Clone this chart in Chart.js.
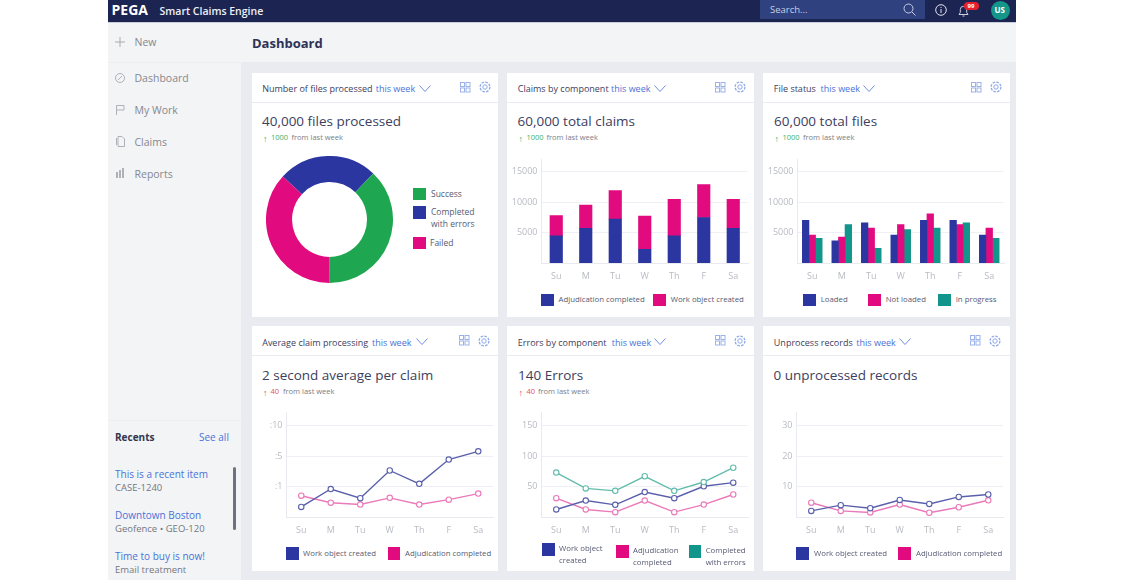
<!DOCTYPE html>
<html>
<head>
<meta charset="utf-8">
<script src="https://cdn.jsdelivr.net/npm/chart.js@4"></script>
<style>
html, body { margin: 0; padding: 0; background: #fff; }
body { width: 1125px; height: 580px; overflow: hidden; position: relative; font-family: "Open Sans", sans-serif; }
#app { position: absolute; left: 0; top: 0; width: 1125px; height: 580px; overflow: hidden; filter: blur(0.4px); }
.box { position: absolute; }
.txt { position: absolute; white-space: nowrap; line-height: 1; transform: translateY(-50%); }
canvas { position: absolute; }
svg { position: absolute; overflow: visible; fill: none; }
</style>
</head>
<body>
<div id="app"></div>
<script>
const days = ['Su', 'M', 'Tu', 'W', 'Th', 'F', 'Sa'];

// donut, listed clockwise from the top left edge of the blue slice
const fileLabels = ['Completed with errors', 'Success', 'Failed'];
const fileValues = [10100, 15200, 14700];

// stacked bars
const adjudicationClaims = [4460, 5700, 7200, 2260, 4460, 7470, 5700];
const workObjectClaims = [3340, 3800, 4700, 5430, 5970, 5380, 4730];

// grouped bars
const loaded = [7000, 3650, 6600, 4600, 7000, 7000, 4600];
const notLoaded = [4600, 4250, 5750, 6300, 8050, 6300, 5750];
const inProgress = [4030, 6300, 2420, 5480, 5750, 6600, 4030];
const barTicks = [5000, 10000, 15000];

// average processing, the axis is evenly spaced so values are tick positions
const avgTicks = [1, 2, 3];
const avgTickLabels = [':1', ':5', ':10'];
const avgWorkObject = [0.33, 0.92, 0.62, 1.53, 1.09, 1.89, 2.16];
const avgAdjudication = [0.70, 0.47, 0.41, 0.63, 0.41, 0.57, 0.77];

// errors
const errorTicks = [50, 100, 150];
const errWorkObject = [12.4, 27, 20, 41, 31, 50.5, 56.5];
const errAdjudication = [31, 12.4, 8, 27, 8, 20.4, 37];
const errCompleted = [73, 47, 43, 67, 43, 57.5, 81];

// unprocessed
const unprocTicks = [10, 20, 30];
const unprocWorkObject = [2, 3.9, 2.9, 5.6, 4.3, 6.6, 7.4];
const unprocAdjudication = [4.7, 2, 1.5, 4.1, 1.4, 3.2, 5.5];

const BLUE = '#2b36a0', PINK = '#e20a7f', TEAL = '#12958a', GREEN = '#1fa650';
const LINE_BLUE = '#5a60ab', LINE_PINK = '#ea7ab9', LINE_TEAL = '#62bcab';
const INK = '#3c4060', MUTED = '#7b7e88', LINK = '#4a72d6', TICK = '#b8bbc3', GRID = '#eef0f5';
const UP_GOOD = '#3db26a', UP_BAD = '#e8505b';

const app = document.getElementById('app');

function box(x, y, w, h, color, radius) {
    const d = document.createElement('div');
    d.className = 'box';
    d.style.cssText = `left:${x}px;top:${y}px;width:${w}px;height:${h}px;background:${color};` +
        (radius ? `border-radius:${radius}px;` : '');
    app.appendChild(d);
    return d;
}

function label(x, y, text, size, color, weight) {
    const d = document.createElement('div');
    d.className = 'txt';
    d.textContent = text;
    d.style.cssText = `left:${x}px;top:${y}px;font-size:${size}px;color:${color};font-weight:${weight || 400};`;
    app.appendChild(d);
    return d;
}

function icon(x, y, w, h, body) {
    const s = document.createElementNS('http://www.w3.org/2000/svg', 'svg');
    s.setAttribute('width', w);
    s.setAttribute('height', h);
    s.style.left = x + 'px';
    s.style.top = y + 'px';
    s.innerHTML = body;
    app.appendChild(s);
}

function cardHead(x, y, title, weekX, chevX, iconX) {
    // x,y is the top left of the card
    box(x, y, 246.5, 244.5, '#fff');
    box(x, y + 29, 246.5, 1, '#e9ebf0');
    const rowY = y + 15.3;
    label(x + 10.5, rowY, title, 9, INK);
    label(weekX, rowY, 'this week', 9, LINK);
    icon(chevX, rowY - 3.5, 12, 8, '<path d="M0.5 0.5 L6 6.5 L11.5 0.5" stroke="#4a72d6" stroke-width="0.8"/>');
    const g = y + 9;
    icon(iconX, g, 11, 11, '<g stroke="#9bb3ea" stroke-width="1">' +
        '<rect x="0.5" y="0.5" width="4" height="4"/><rect x="6" y="0.5" width="4" height="4"/>' +
        '<rect x="0.5" y="6" width="4" height="4"/><rect x="6" y="6" width="4" height="4"/></g>');
    icon(iconX + 19, g - 0.5, 12, 12, '<g stroke="#8fa9e8" stroke-width="1"><circle cx="6" cy="6" r="2.2"/>' +
        '<circle cx="6" cy="6" r="4.9" stroke-dasharray="2.6 1.2" stroke-width="1.3"/></g>');
}

function trend(arrowX, numX, textX, y, value, color) {
    label(arrowX, y, '↑', 9, color);
    label(numX, y, value, 7.5, color);
    label(textX, y, 'from last week', 7.5, MUTED);
}

function legendItem(x, y, color, lines, textX, size) {
    box(x, y, 12.5, 12.5, color);
    lines.forEach((line, i) => {
        const cy = lines.length > 1 ? y + 6 + (i === 0 ? 0 : 11.7) : y + 6.3;
        label(textX, cy, line, size || 7.8, '#565a72');
    });
}

function addCanvas(x, y, w, h) {
    const c = document.createElement('canvas');
    c.style.left = x + 'px';
    c.style.top = y + 'px';
    c.style.width = w + 'px';
    c.style.height = h + 'px';
    c.width = w;
    c.height = h;
    app.appendChild(c);
    return c;
}

function axisOptions(max, ticks, tickLabels, stacked) {
    return {
        x: {
            stacked: stacked,
            offset: true,
            grid: { display: false, drawTicks: false },
            border: { color: '#e8eaef' },
            ticks: { color: TICK, padding: 8, font: { size: 9, family: 'Open Sans' }, maxRotation: 0 },
            afterFit: s => { s.height = 27; }
        },
        y: {
            stacked: stacked,
            min: 0,
            max: max,
            afterBuildTicks: s => { s.ticks = ticks.map(v => ({ value: v })); },
            grid: { color: GRID, drawTicks: false },
            border: { color: '#e8eaef' },
            ticks: {
                color: TICK,
                padding: 4,
                font: { size: 9, family: 'Open Sans' },
                callback: v => tickLabels ? tickLabels[ticks.indexOf(v)] : v
            },
            afterFit: s => { s.width = 34.5; }
        }
    };
}

function barChart(x, y, datasets, stacked) {
    new Chart(addCanvas(x, y, 247, 140), {
        type: 'bar',
        data: { labels: days, datasets: datasets },
        options: {
            responsive: false,
            animation: false,
            layout: { padding: { top: 7, right: 6 } },
            plugins: { legend: { display: false }, tooltip: { enabled: false } },
            scales: axisOptions(17000, barTicks, null, stacked)
        }
    });
}

function lineSet(values, color) {
    return {
        data: values,
        borderColor: color,
        borderWidth: 1.4,
        tension: 0,
        pointRadius: 2.7,
        pointBorderWidth: 1.1,
        pointBackgroundColor: '#fff',
        pointBorderColor: color
    };
}

function lineChart(x, y, datasets, max, ticks, tickLabels) {
    new Chart(addCanvas(x, y, 247, 141), {
        type: 'line',
        data: { labels: days, datasets: datasets },
        options: {
            responsive: false,
            animation: false,
            layout: { padding: { top: 7, right: 6 } },
            plugins: { legend: { display: false }, tooltip: { enabled: false } },
            scales: axisOptions(max, ticks, tickLabels, false)
        }
    });
}

// page frame
box(108, 0, 908, 580, '#e9ebf1');
box(108, 0, 133, 580, '#f3f4f6');
box(241, 22, 775, 40, '#f2f4f6');
box(108, 62, 133, 1, '#eceef1');
box(108, 420, 133, 1, '#eceef1');
box(108, 0, 908, 22, '#1c2452');
box(108, 22, 908, 1, '#c9cdd9');

// top bar
label(111.5, 10, 'PEGA', 14, '#fff', 700);
label(159.5, 10.5, 'Smart Claims Engine', 10.5, '#eef0f6', 600);
box(760, 0, 165, 19, '#2f417f');
label(770, 10, 'Search...', 9.5, '#c7cfe3');
icon(903, 3, 13, 13, '<circle cx="5.5" cy="5.5" r="4.5" stroke="#c7cfe3"/><path d="M9 9 L12.5 12.5" stroke="#c7cfe3"/>');
icon(935, 4, 12, 12, '<circle cx="6" cy="6" r="5.3" stroke="#dfe3ee"/><path d="M6 5 V9 M6 3 V4" stroke="#dfe3ee"/>');
icon(958, 5, 11, 12, '<path d="M1 9.5 H10 L8.7 7.5 V4.5 A3.2 3.2 0 0 0 2.3 4.5 V7.5 Z M4.5 11 H6.5" stroke="#c9cede"/>');
box(964, 2, 15, 8, '#e5202e', 4);
label(967.5, 6, '99', 6, '#fff', 700);
box(990.5, 0.5, 19, 19, '#149688', 10);
label(994.5, 10, 'US', 8, '#fff', 700);

// side navigation
icon(115, 37, 10, 10, '<path d="M5 0 V10 M0 5 H10" stroke="#a9acb4"/>');
label(134.5, 42, 'New', 10.5, '#85888f');
icon(115, 73, 10, 10, '<circle cx="5" cy="5" r="4.5" stroke="#aeb1b8"/><path d="M3 7 L7 3" stroke="#aeb1b8"/>');
label(134.5, 78, 'Dashboard', 10.5, '#85888f');
icon(116, 105, 9, 10, '<path d="M0.5 10 V0.5 H8 V5 H0.5" stroke="#aeb1b8"/>');
label(134.5, 110, 'My Work', 10.5, '#85888f');
icon(115.5, 136, 9, 11, '<path d="M2 0.5 H6 L8.5 3 V10.5 H2 Z M0.5 2 V9" stroke="#aeb1b8"/>');
label(134.5, 141.5, 'Claims', 10.5, '#85888f');
box(115.5, 172, 2, 6, '#aeb1b8');
box(118.5, 170, 2, 8, '#aeb1b8');
box(121.5, 168, 2, 10, '#aeb1b8');
label(134.5, 173.5, 'Reports', 10.5, '#85888f');

// recents
label(115, 437, 'Recents', 10, '#33364f', 700);
label(199, 437, 'See all', 10, LINK);
label(115, 474, 'This is a recent item', 10, LINK);
label(115, 488, 'CASE-1240', 9.5, '#74777f');
label(115, 515, 'Downtown Boston', 10, LINK);
label(115, 529, 'Geofence • GEO-120', 9.5, '#74777f');
label(115, 556, 'Time to buy is now!', 10, LINK);
label(115, 570, 'Email treatment', 9.5, '#74777f');
box(232.5, 467, 3.5, 63, '#6d727f', 2);

label(252, 43, 'Dashboard', 13, '#2e3257', 700);

// row 1 cards
cardHead(251.7, 72.7, 'Number of files processed', 375.7, 418.7, 459.5);
label(262, 121.5, '40,000 files processed', 13.5, INK);
trend(263, 271, 291.5, 138, '1000', UP_GOOD);

cardHead(507.3, 72.7, 'Claims by component', 611, 654, 715);
label(517.5, 121.5, '60,000 total claims', 13.5, INK);
trend(518.5, 526.5, 546.5, 138, '1000', UP_GOOD);

cardHead(763.3, 72.7, 'File status', 820.5, 863, 971);
label(774, 121.5, '60,000 total files', 13.5, INK);
trend(774.5, 782.5, 803, 138, '1000', UP_GOOD);

// row 2 cards
cardHead(251.7, 326.4, 'Average claim processing', 372, 415.7, 459);
label(262, 376, '2 second average per claim', 13.5, INK);
trend(263, 270.5, 283, 392, '40', UP_BAD);

cardHead(507.3, 326.4, 'Errors by component', 611.7, 654, 715);
label(518, 376, '140 Errors', 13.5, INK);
trend(518.5, 526.5, 538, 392, '40', UP_BAD);

cardHead(763.3, 326.4, 'Unprocess records', 856.3, 899, 970);
label(773.5, 376, '0 unprocessed records', 13.5, INK);

// donut
new Chart(addCanvas(265.8, 155.8, 127, 127), {
    type: 'doughnut',
    data: {
        labels: fileLabels,
        datasets: [{ data: fileValues, backgroundColor: [BLUE, GREEN, PINK], borderWidth: 0 }]
    },
    options: {
        responsive: false,
        animation: false,
        rotation: -47.4,
        cutout: '59%',
        plugins: { legend: { display: false }, tooltip: { enabled: false } }
    }
});
legendItem(413.3, 187.5, GREEN, ['Success'], 431, 8.5);
legendItem(413.3, 206, BLUE, ['Completed', 'with errors'], 431, 8.5);
legendItem(413.3, 236.5, PINK, ['Failed'], 430, 8.5);

// stacked bars
barChart(507, 150, [
    { data: adjudicationClaims, backgroundColor: BLUE, barThickness: 12.5 },
    { data: workObjectClaims, backgroundColor: PINK, barThickness: 12.5 }
], true);
legendItem(541, 293.5, BLUE, ['Adjudication completed'], 558.5);
legendItem(653.3, 293.5, PINK, ['Work object created'], 670.7);

// grouped bars
barChart(763, 150, [
    { data: loaded, backgroundColor: BLUE, barThickness: 6.6 },
    { data: notLoaded, backgroundColor: PINK, barThickness: 6.6 },
    { data: inProgress, backgroundColor: TEAL, barThickness: 6.6 }
].map(d => ({ ...d, categoryPercentage: 1, barPercentage: 1 })), false);
legendItem(803, 293.5, BLUE, ['Loaded'], 820.7);
legendItem(868, 293.5, PINK, ['Not loaded'], 885.7);
legendItem(938, 293.5, TEAL, ['In progress'], 955.7);

// line charts
lineChart(251.5, 403, [lineSet(avgWorkObject, LINE_BLUE), lineSet(avgAdjudication, LINE_PINK)],
    3.44, avgTicks, avgTickLabels);
legendItem(286, 547.3, BLUE, ['Work object created'], 303);
legendItem(387.7, 547.3, PINK, ['Adjudication completed'], 405);

lineChart(507.2, 403, [lineSet(errCompleted, LINE_TEAL), lineSet(errWorkObject, LINE_BLUE), lineSet(errAdjudication, LINE_PINK)],
    172, errorTicks);
legendItem(542, 543, BLUE, ['Work object', 'created'], 559);
legendItem(616, 545, PINK, ['Adjudication', 'completed'], 633);
legendItem(688.7, 545, TEAL, ['Completed', 'with errors'], 705.7);

lineChart(762.2, 403, [lineSet(unprocWorkObject, LINE_BLUE), lineSet(unprocAdjudication, LINE_PINK)],
    34.4, unprocTicks);
legendItem(796, 547.3, BLUE, ['Work object created'], 814);
legendItem(898.3, 547.3, PINK, ['Adjudication completed'], 916);
</script>
</body>
</html>
